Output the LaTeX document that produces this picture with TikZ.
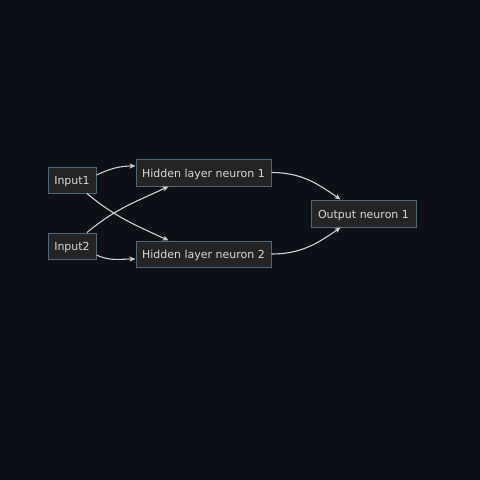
\documentclass[tikz,border=0pt]{standalone}
\usepackage{fontspec}
\setmainfont{DejaVu Sans}
\usetikzlibrary{arrows.meta}
\definecolor{bg}{HTML}{0D1117}
\definecolor{nodefill}{HTML}{222426}
\definecolor{nodeline}{HTML}{4F6779}
\definecolor{txt}{HTML}{D8D8D8}
\definecolor{edge}{HTML}{D0D0D0}
\tikzset{
  nn/.style={draw=nodeline, fill=nodefill, text=txt, line width=1pt, inner sep=0pt,
    font=\fontsize{11}{13}\selectfont, anchor=center, text height=9.5pt, text depth=0.5pt},
  conn/.style={draw=edge, line width=1.1pt, -{Stealth[length=6pt,width=5pt]}}
}
\begin{document}
\begin{tikzpicture}[x=1pt,y=-1pt]
\fill[bg] (0,0) rectangle (480,480);
\useasboundingbox (0,0) rectangle (480,480);
\node[nn, minimum width=48pt, minimum height=26pt] (i1) at (72,180) {Input1};
\node[nn, minimum width=48pt, minimum height=26pt] (i2) at (72,246) {Input2};
\node[nn, minimum width=135pt, minimum height=27pt] (h1) at (203.5,172.5) {Hidden layer neuron 1};
\node[nn, minimum width=135pt, minimum height=26pt] (h2) at (203.5,254) {Hidden layer neuron 2};
\node[nn, minimum width=105pt, minimum height=27pt] (o) at (363.5,213.5) {Output neuron 1};
\draw[conn] ([yshift=5pt]i1.east) to[out=25,in=180] ([yshift=6.5pt]h1.west);
\draw[conn] ([xshift=15pt]i1.south) to[out=-40,in=155] ([xshift=-35pt]h2.north);
\draw[conn] ([xshift=15pt]i2.north) to[out=40,in=-155] ([xshift=-35pt]h1.south);
\draw[conn] ([yshift=-9pt]i2.east) to[out=-25,in=180] ([yshift=-5pt]h2.west);
\draw[conn] (h1.east) to[out=0,in=145] ([xshift=-23pt]o.north);
\draw[conn] (h2.east) to[out=0,in=-145] ([xshift=-23pt]o.south);
\end{tikzpicture}
\end{document}
